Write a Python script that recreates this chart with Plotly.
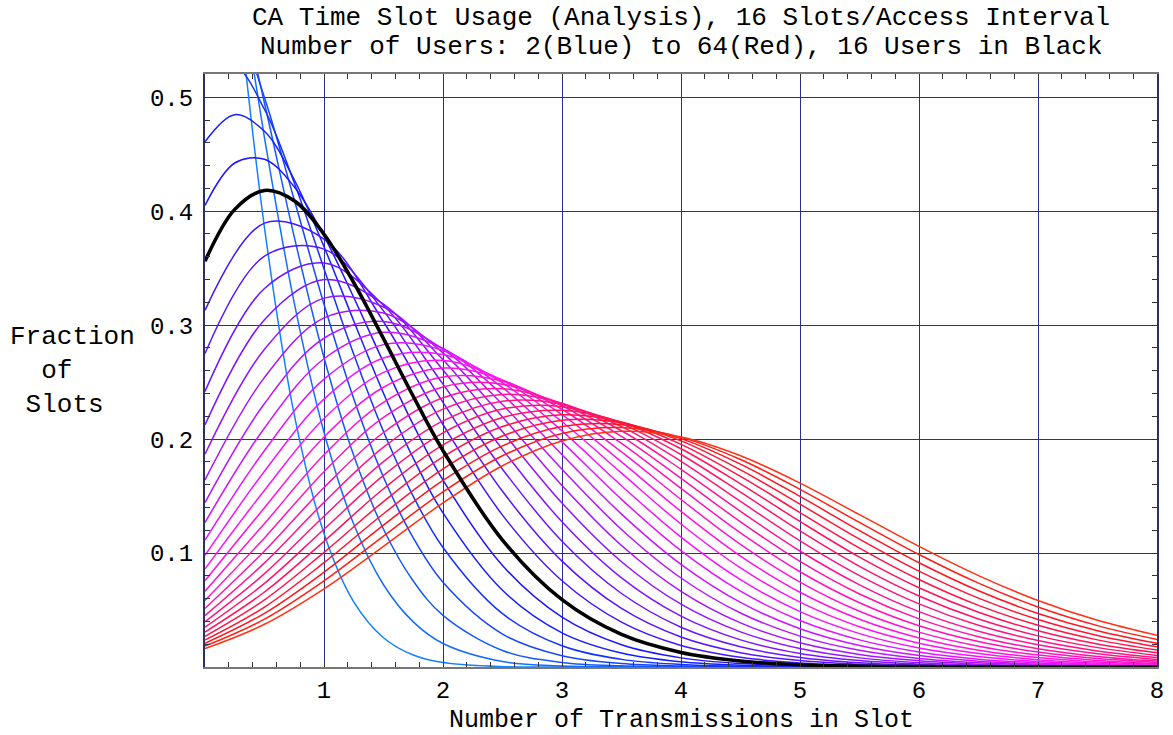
import colorsys
import plotly.graph_objects as go

# ---------------- data ----------------
X_FINE = [0, 0.25, 0.5, 0.75, 1, 1.25, 1.5, 1.75, 2, 2.5, 3, 3.5, 4, 4.5, 5, 5.5, 6, 6.5, 7, 7.5, 8]
X_HALF = [0, 0.5, 1, 1.5, 2, 2.5, 3, 3.5, 4, 4.5, 5, 5.5, 6, 6.5, 7, 7.5, 8]

USERS = list(range(2, 65, 2))
BLACK_USERS = 16

# fine-grid curves (x = X_FINE)
Y_02 = [0.8789, 0.6127, 0.3854, 0.2215, 0.1172, 0.0572, 0.0257, 0.0105, 0.0039, 0.0003, 0, 0, 0, 0, 0, 0, 0, 0, 0, 0, 0]
Y_04 = [0.7725, 0.6266, 0.4644, 0.3195, 0.2060, 0.1253, 0.0722, 0.0396, 0.0206, 0.0048, 0.0009, 0.0001, 0, 0, 0, 0, 0, 0, 0, 0, 0]
Y_06 = [0.6789, 0.6049, 0.4947, 0.3775, 0.2716, 0.1855, 0.1209, 0.0755, 0.0453, 0.0145, 0.0040, 0.0010, 0.0002, 0, 0, 0, 0, 0, 0, 0, 0]
Y_08 = [0.5967, 0.5692, 0.4995, 0.4100, 0.3183, 0.2353, 0.1665, 0.1133, 0.0743, 0.0289, 0.0099, 0.0030, 0.0008, 0.0002, 0, 0, 0, 0, 0, 0, 0]
Y_10 = [0.5245, 0.5277, 0.4893, 0.4250, 0.3496, 0.2744, 0.2066, 0.1498, 0.1049, 0.0468, 0.0186, 0.0067, 0.0022, 0.0006, 0.0002, 0, 0, 0, 0, 0, 0]
Y_12 = [0.4610, 0.4847, 0.4701, 0.4276, 0.3688, 0.3037, 0.2403, 0.1833, 0.1352, 0.0673, 0.0300, 0.0122, 0.0045, 0.0015, 0.0005, 0.0001, 0, 0, 0, 0, 0]
Y_14 = [0.4051, 0.4423, 0.4456, 0.4214, 0.3781, 0.3243, 0.2674, 0.2127, 0.1639, 0.0891, 0.0437, 0.0195, 0.0080, 0.0030, 0.0011, 0.0004, 0.0001, 0, 0, 0, 0]
Y_16 = [0.3561, 0.4016, 0.4182, 0.4091, 0.3798, 0.3373, 0.2881, 0.2376, 0.1899, 0.1114, 0.0591, 0.0286, 0.0128, 0.0053, 0.0020, 0.0007, 0.0003, 0.0001, 0, 0, 0]

# half-grid curves (x = X_HALF)
Y_18 = [0.3130, 0.3895, 0.3755, 0.3030, 0.2128, 0.1333, 0.0757, 0.0394, 0.0189, 0.0085, 0.0035, 0.0014, 0.0005, 0.0002, 0.0001, 0, 0]
Y_20 = [0.2751, 0.3606, 0.3667, 0.3125, 0.2323, 0.1542, 0.0929, 0.0514, 0.0263, 0.0126, 0.0056, 0.0024, 0.0009, 0.0004, 0.0001, 0, 0]
Y_22 = [0.2418, 0.3322, 0.3546, 0.3175, 0.2482, 0.1736, 0.1103, 0.0645, 0.0349, 0.0177, 0.0084, 0.0037, 0.0016, 0.0006, 0.0002, 0.0001, 0]
Y_24 = [0.2125, 0.3048, 0.3400, 0.3184, 0.2606, 0.1910, 0.1274, 0.0782, 0.0446, 0.0238, 0.0119, 0.0056, 0.0025, 0.0011, 0.0004, 0.0002, 0.0001]
Y_26 = [0.1867, 0.2788, 0.3237, 0.3159, 0.2697, 0.2064, 0.1439, 0.0924, 0.0551, 0.0308, 0.0162, 0.0080, 0.0038, 0.0017, 0.0007, 0.0003, 0.0001]
Y_28 = [0.1641, 0.2542, 0.3064, 0.3106, 0.2757, 0.2195, 0.1593, 0.1066, 0.0664, 0.0387, 0.0212, 0.0110, 0.0054, 0.0025, 0.0011, 0.0005, 0.0002]
Y_30 = [0.1443, 0.2312, 0.2885, 0.3031, 0.2789, 0.2303, 0.1735, 0.1207, 0.0781, 0.0474, 0.0271, 0.0146, 0.0075, 0.0037, 0.0017, 0.0008, 0.0003]
Y_32 = [0.1268, 0.2098, 0.2705, 0.2937, 0.2795, 0.2389, 0.1863, 0.1342, 0.0901, 0.0567, 0.0336, 0.0189, 0.0101, 0.0051, 0.0025, 0.0012, 0.0005]
Y_34 = [0.1114, 0.1900, 0.2526, 0.2829, 0.2778, 0.2452, 0.1976, 0.1471, 0.1021, 0.0665, 0.0408, 0.0238, 0.0132, 0.0069, 0.0035, 0.0017, 0.0008]
Y_36 = [0.0979, 0.1718, 0.2351, 0.2711, 0.2742, 0.2494, 0.2072, 0.1591, 0.1140, 0.0766, 0.0486, 0.0293, 0.0167, 0.0092, 0.0048, 0.0024, 0.0012]
Y_38 = [0.0861, 0.1551, 0.2181, 0.2585, 0.2690, 0.2516, 0.2152, 0.1701, 0.1255, 0.0870, 0.0569, 0.0353, 0.0209, 0.0118, 0.0064, 0.0033, 0.0016]
Y_40 = [0.0757, 0.1398, 0.2018, 0.2455, 0.2623, 0.2520, 0.2215, 0.1800, 0.1366, 0.0974, 0.0656, 0.0419, 0.0255, 0.0148, 0.0083, 0.0044, 0.0023]
Y_42 = [0.0665, 0.1259, 0.1862, 0.2323, 0.2545, 0.2508, 0.2262, 0.1887, 0.1470, 0.1076, 0.0745, 0.0489, 0.0306, 0.0183, 0.0105, 0.0058, 0.0031]
Y_44 = [0.0584, 0.1133, 0.1714, 0.2190, 0.2457, 0.2482, 0.2293, 0.1962, 0.1567, 0.1177, 0.0836, 0.0564, 0.0362, 0.0223, 0.0131, 0.0074, 0.0040]
Y_46 = [0.0514, 0.1018, 0.1575, 0.2058, 0.2363, 0.2442, 0.2310, 0.2024, 0.1656, 0.1274, 0.0927, 0.0641, 0.0422, 0.0266, 0.0161, 0.0093, 0.0052]
Y_48 = [0.0451, 0.0914, 0.1445, 0.1929, 0.2263, 0.2392, 0.2314, 0.2073, 0.1735, 0.1366, 0.1018, 0.0721, 0.0486, 0.0314, 0.0195, 0.0116, 0.0066]
Y_50 = [0.0397, 0.0819, 0.1323, 0.1803, 0.2160, 0.2332, 0.2304, 0.2110, 0.1805, 0.1453, 0.1107, 0.0802, 0.0554, 0.0366, 0.0232, 0.0141, 0.0083]
Y_52 = [0.0349, 0.0734, 0.1209, 0.1681, 0.2055, 0.2264, 0.2284, 0.2134, 0.1865, 0.1534, 0.1194, 0.0883, 0.0623, 0.0421, 0.0273, 0.0170, 0.0102]
Y_54 = [0.0307, 0.0658, 0.1103, 0.1564, 0.1949, 0.2190, 0.2253, 0.2148, 0.1915, 0.1607, 0.1277, 0.0964, 0.0695, 0.0480, 0.0318, 0.0202, 0.0124]
Y_56 = [0.0269, 0.0589, 0.1006, 0.1452, 0.1844, 0.2110, 0.2213, 0.2150, 0.1954, 0.1673, 0.1355, 0.1044, 0.0768, 0.0541, 0.0366, 0.0238, 0.0149]
Y_58 = [0.0237, 0.0526, 0.0916, 0.1345, 0.1739, 0.2027, 0.2165, 0.2143, 0.1984, 0.1730, 0.1429, 0.1122, 0.0841, 0.0604, 0.0417, 0.0277, 0.0177]
Y_60 = [0.0208, 0.0471, 0.0832, 0.1245, 0.1637, 0.1941, 0.2110, 0.2126, 0.2004, 0.1780, 0.1497, 0.1197, 0.0915, 0.0669, 0.0470, 0.0318, 0.0208]
Y_62 = [0.0183, 0.0420, 0.0756, 0.1149, 0.1537, 0.1854, 0.2050, 0.2101, 0.2015, 0.1821, 0.1559, 0.1269, 0.0987, 0.0736, 0.0526, 0.0363, 0.0241]
Y_64 = [0.0161, 0.0375, 0.0686, 0.1059, 0.1440, 0.1766, 0.1984, 0.2068, 0.2018, 0.1854, 0.1614, 0.1337, 0.1058, 0.0802, 0.0584, 0.0410, 0.0278]

X_TICKS = [1, 2, 3, 4, 5, 6, 7, 8]
Y_TICKS = [0.1, 0.2, 0.3, 0.4, 0.5]
Y_TICK_TEXT = ["0.1", "0.2", "0.3", "0.4", "0.5"]

TITLE_1 = "CA Time Slot Usage (Analysis), 16 Slots/Access Interval"
TITLE_2 = "Number of Users: 2(Blue) to 64(Red), 16 Users in Black"
X_TITLE = "Number of Transmissions in Slot"
Y_TITLE = "Fraction<br>\u00a0\u00a0of<br>\u00a0Slots"

CURVES = {
    2: (X_FINE, Y_02), 4: (X_FINE, Y_04), 6: (X_FINE, Y_06), 8: (X_FINE, Y_08),
    10: (X_FINE, Y_10), 12: (X_FINE, Y_12), 14: (X_FINE, Y_14), 16: (X_FINE, Y_16),
    18: (X_HALF, Y_18), 20: (X_HALF, Y_20), 22: (X_HALF, Y_22), 24: (X_HALF, Y_24),
    26: (X_HALF, Y_26), 28: (X_HALF, Y_28), 30: (X_HALF, Y_30), 32: (X_HALF, Y_32),
    34: (X_HALF, Y_34), 36: (X_HALF, Y_36), 38: (X_HALF, Y_38), 40: (X_HALF, Y_40),
    42: (X_HALF, Y_42), 44: (X_HALF, Y_44), 46: (X_HALF, Y_46), 48: (X_HALF, Y_48),
    50: (X_HALF, Y_50), 52: (X_HALF, Y_52), 54: (X_HALF, Y_54), 56: (X_HALF, Y_56),
    58: (X_HALF, Y_58), 60: (X_HALF, Y_60), 62: (X_HALF, Y_62), 64: (X_HALF, Y_64),
}

# ---------------- styling ----------------
FONT = "Liberation Mono, Courier New, Courier, monospace"
GRID = "#27318c"


def hue_color(i, count):
    h = 0.59 + 0.43 * i / (count - 1)
    r, g, b = colorsys.hsv_to_rgb(h % 1.0, 0.92, 1.0)
    return "rgb(%d,%d,%d)" % (round(r * 255), round(g * 255), round(b * 255))


fig = go.Figure()
for i, n in enumerate(USERS):
    if n == BLACK_USERS:
        continue
    xs, ys = CURVES[n]
    fig.add_trace(go.Scatter(
        x=xs, y=ys, mode="lines",
        line=dict(color=hue_color(i, len(USERS)), width=1.5, shape="spline", smoothing=1.0),
        hoverinfo="skip", showlegend=False,
    ))

xs, ys = CURVES[BLACK_USERS]
fig.add_trace(go.Scatter(
    x=xs, y=ys, mode="lines",
    line=dict(color="black", width=3.6, shape="spline", smoothing=1.0),
    hoverinfo="skip", showlegend=False,
))

fig.update_layout(
    width=1173, height=735,
    margin=dict(l=205, r=9, t=74, b=68),
    paper_bgcolor="white", plot_bgcolor="white",
    font=dict(family=FONT, size=24, color="black"),
    showlegend=False,
    xaxis=dict(
        range=[0, 8], tickmode="array", tickvals=X_TICKS,
        ticks="inside", ticklen=5, tickwidth=1, tickcolor="#333",
        showline=True, linecolor="#777777", linewidth=2, mirror="ticks",
        showgrid=True, gridcolor=GRID, gridwidth=1.3, zeroline=False,
        ticklabelstandoff=0,
        tickfont=dict(family=FONT, size=24, color="black"),
        minor=dict(tickmode="linear", tick0=0, dtick=0.2, ticks="inside", ticklen=5,
                   tickcolor="#333", tickwidth=1, showgrid=False),
    ),
    yaxis=dict(
        range=[0, 0.5204], tickmode="array", tickvals=Y_TICKS, ticktext=Y_TICK_TEXT,
        ticks="inside", ticklen=5, tickwidth=1, tickcolor="#333",
        showline=True, linecolor="#2a2f6a", linewidth=2, mirror="ticks",
        showgrid=True, gridcolor=GRID, gridwidth=1.3, zeroline=False,
        ticklabelstandoff=5,
        tickfont=dict(family=FONT, size=24, color="black"),
        minor=dict(tickmode="linear", tick0=0, dtick=0.02, ticks="inside", ticklen=5,
                   tickcolor="#333", tickwidth=1, showgrid=False),
    ),
    annotations=[
        dict(text=TITLE_1, xref="paper", yref="paper", x=0.5, y=1.094,
             xanchor="center", yanchor="middle", showarrow=False,
             font=dict(family=FONT, size=26, color="black")),
        dict(text=TITLE_2, xref="paper", yref="paper", x=0.5, y=1.045,
             xanchor="center", yanchor="middle", showarrow=False,
             font=dict(family=FONT, size=26, color="black")),
        dict(text=X_TITLE, xref="paper", yref="paper", x=0.5, y=-0.0905,
             xanchor="center", yanchor="middle", showarrow=False,
             font=dict(family=FONT, size=25, color="black")),
        dict(text=Y_TITLE, xref="paper", yref="paper", x=0, xshift=-197, y=0.5,
             xanchor="left", yanchor="middle", align="left", showarrow=False,
             font=dict(family=FONT, size=26, color="black")),
    ],
)

fig.write_html(
    "out.html",
    config={"displayModeBar": False},
    post_script="document.body.style.margin='0';document.body.style.overflow='hidden';",
)
